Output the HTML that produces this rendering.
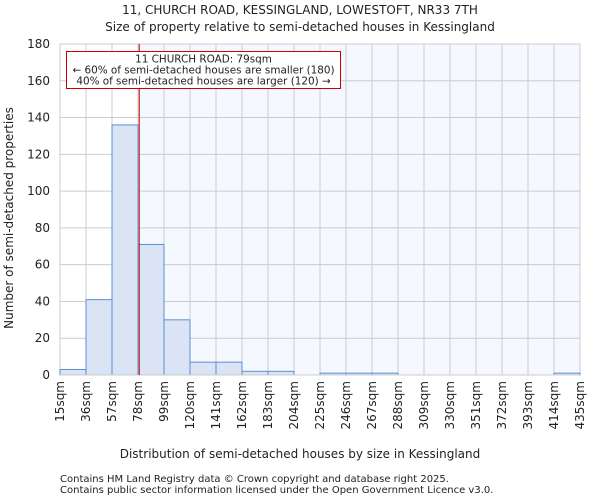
<!DOCTYPE html>
<html><head><meta charset="utf-8"><style>
body{margin:0;background:#fff;font-family:"DejaVu Sans","Liberation Sans",sans-serif}
svg text{font-family:"DejaVu Sans","Liberation Sans",sans-serif;fill:#222}
</style></head><body>
<svg id="c" width="600" height="500">
<text x="300" y="14" text-anchor="middle" font-size="12">11, CHURCH ROAD, KESSINGLAND, LOWESTOFT, NR33 7TH</text>
<text x="300" y="31" text-anchor="middle" font-size="12">Size of property relative to semi-detached houses in Kessingland</text>
<g id="plot"></g>
<text x="300" y="458" text-anchor="middle" font-size="12">Distribution of semi-detached houses by size in Kessingland</text>
<text transform="translate(13,218) rotate(-90)" text-anchor="middle" font-size="12">Number of semi-detached properties</text>
<text x="60" y="482" font-size="10" fill="#444">Contains HM Land Registry data © Crown copyright and database right 2025.</text>
<text x="60" y="493" font-size="10" fill="#444">Contains public sector information licensed under the Open Government Licence v3.0.</text>
</svg>
<script>
const binEdges=[15,36,57,78,99,120,141,162,183,204,225,246,267,288,309,330,351,372,393,414,435];
const counts=[3,41,136,71,30,7,7,2,2,0,1,1,1,0,0,0,0,0,0,1];
const yTicks=[0,20,40,60,80,100,120,140,160,180];
const markerValue=79;
const annoLines=["11 CHURCH ROAD: 79sqm","← 60% of semi-detached houses are smaller (180)","40% of semi-detached houses are larger (120) →"];
const L=60,R=580,T=44,B=375,xmin=15,xmax=435,ymax=180;
const X=v=>L+(v-xmin)/(xmax-xmin)*(R-L);
const Y=v=>B-v/ymax*(B-T);
const NS="http://www.w3.org/2000/svg";
const g=document.getElementById('plot');
function mk(t,a,p){const e=document.createElementNS(NS,t);for(const k in a)e.setAttribute(k,a[k]);(p||g).appendChild(e);return e;}
let bg=mk('rect',{x:X(markerValue),y:T,width:R-X(markerValue),height:B-T,fill:'#f5f8fe'});


yTicks.forEach(v=>{
 let l=mk('line',{x1:L,x2:R,y1:Y(v),y2:Y(v),stroke:'#ccc','stroke-width':1});
 
 
 let t=mk('text',{x:L-10,y:Y(v)+4,'text-anchor':'end','font-size':12});t.textContent=v;
 
 
});
binEdges.forEach(v=>{
 let l=mk('line',{x1:X(v),x2:X(v),y1:T,y2:B,stroke:'#ccc','stroke-width':1});
 
 
 let t=mk('text',{transform:`translate(${X(v)+4},${B+6}) rotate(-90)`,'text-anchor':'end','font-size':12});t.textContent=v+'sqm';
 
 
});
counts.forEach((c,i)=>{
 if(c<=0)return;
 let r=mk('rect',{x:X(binEdges[i]),y:Y(c),width:X(binEdges[i+1])-X(binEdges[i]),height:B-Y(c),fill:'#dae4f4',stroke:'#5b8fd6','stroke-width':1});
 
 
});
let ax=mk('line',{x1:L,x2:R,y1:B,y2:B,stroke:'#ccc'});


let ml=mk('line',{x1:X(markerValue),x2:X(markerValue),y1:T,y2:B,stroke:'#c00','stroke-width':1});


let box=mk('rect',{x:66.5,y:51.5,width:274,height:37,fill:'#fff',stroke:'#c00','stroke-width':1});


annoLines.forEach((s,i)=>{
 let t=mk('text',{x:203.5,y:62.5+i*11,'text-anchor':'middle','font-size':10.4});t.textContent=s;
 
 
});
</script>
</body></html>
